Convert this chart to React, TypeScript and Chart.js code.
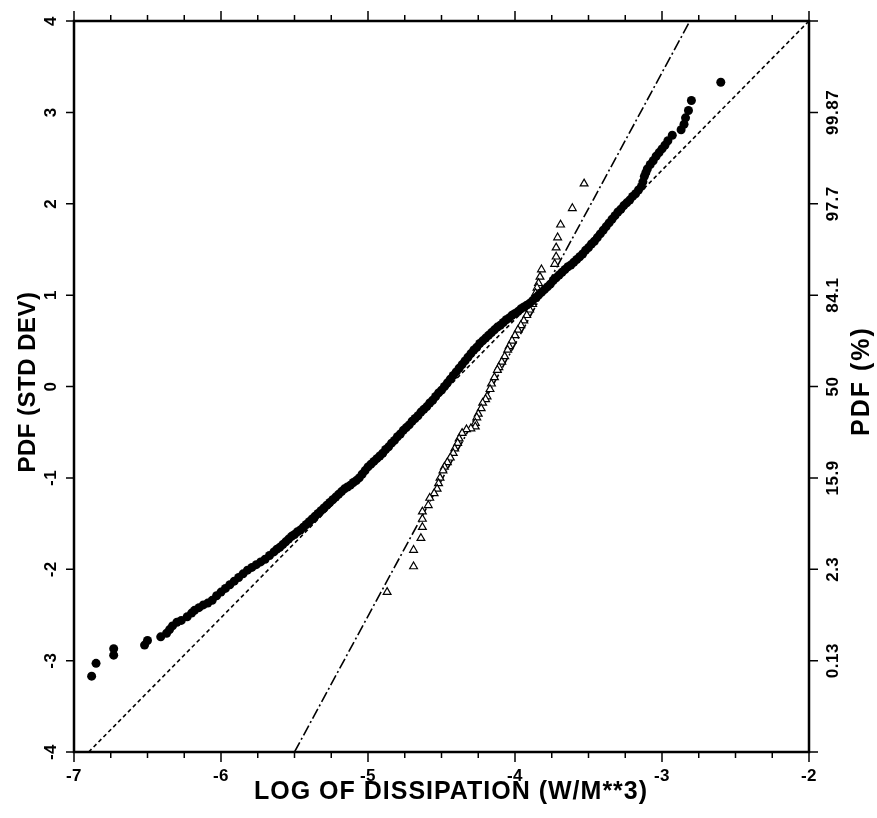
import React, { useEffect, useRef } from 'react';
import { Chart, registerables } from 'chart.js';

Chart.register(...registerables);

// Filled circles: log dissipation vs. normal score (std dev)
const circleData: [number, number][] = [
  [-6.88, -3.17], [-6.85, -3.03], [-6.73, -2.94], [-6.73, -2.87], [-6.52, -2.83], [-6.50, -2.78],
  [-6.41, -2.74], [-6.37, -2.70], [-6.35, -2.66], [-6.33, -2.62], [-6.30, -2.58], [-6.27, -2.56],
  [-6.23, -2.52], [-6.20, -2.48], [-6.18, -2.45], [-6.15, -2.42], [-6.12, -2.39], [-6.09, -2.37],
  [-6.06, -2.34], [-6.03, -2.29], [-6.00, -2.25], [-5.97, -2.21], [-5.94, -2.17], [-5.91, -2.13],
  [-5.88, -2.09], [-5.85, -2.05], [-5.82, -2.01], [-5.79, -1.98], [-5.76, -1.95], [-5.73, -1.92],
  [-5.70, -1.89], [-5.67, -1.85], [-5.64, -1.81], [-5.62, -1.78],
  [-5.60, -1.76], [-5.58, -1.73], [-5.56, -1.70], [-5.54, -1.67], [-5.52, -1.64], [-5.50, -1.62],
  [-5.48, -1.59], [-5.46, -1.57], [-5.44, -1.54], [-5.42, -1.51], [-5.40, -1.48], [-5.38, -1.45],
  [-5.36, -1.42], [-5.34, -1.39], [-5.32, -1.36], [-5.30, -1.33], [-5.28, -1.30], [-5.26, -1.27],
  [-5.24, -1.24], [-5.22, -1.21], [-5.20, -1.18], [-5.18, -1.15], [-5.16, -1.12], [-5.14, -1.10],
  [-5.12, -1.08], [-5.10, -1.05], [-5.08, -1.03], [-5.06, -1.00], [-5.04, -0.96], [-5.02, -0.92],
  [-5.00, -0.88], [-4.98, -0.85], [-4.96, -0.82], [-4.94, -0.79], [-4.92, -0.76], [-4.90, -0.73],
  [-4.88, -0.69], [-4.86, -0.66], [-4.84, -0.62], [-4.82, -0.59], [-4.80, -0.55], [-4.78, -0.52],
  [-4.76, -0.48], [-4.74, -0.45], [-4.72, -0.42], [-4.70, -0.38], [-4.68, -0.35], [-4.66, -0.32],
  [-4.64, -0.28], [-4.62, -0.25], [-4.60, -0.22], [-4.58, -0.18], [-4.56, -0.15], [-4.54, -0.11],
  [-4.52, -0.07], [-4.50, -0.04], [-4.48, 0.00], [-4.46, 0.04], [-4.44, 0.08], [-4.42, 0.12],
  [-4.40, 0.16], [-4.38, 0.20], [-4.36, 0.24], [-4.34, 0.28], [-4.32, 0.32], [-4.30, 0.36],
  [-4.28, 0.40], [-4.26, 0.43], [-4.24, 0.47], [-4.22, 0.50], [-4.20, 0.53], [-4.18, 0.56],
  [-4.16, 0.59], [-4.14, 0.62], [-4.12, 0.65], [-4.10, 0.67], [-4.08, 0.70], [-4.06, 0.73],
  [-4.04, 0.75], [-4.02, 0.78], [-4.00, 0.80], [-3.98, 0.82], [-3.96, 0.85], [-3.94, 0.87],
  [-3.92, 0.89], [-3.90, 0.91], [-3.88, 0.94], [-3.86, 0.97], [-3.84, 1.00], [-3.82, 1.03],
  [-3.80, 1.06], [-3.78, 1.09], [-3.76, 1.12], [-3.74, 1.16], [-3.72, 1.19], [-3.70, 1.22],
  [-3.68, 1.25], [-3.66, 1.28], [-3.64, 1.31], [-3.62, 1.33], [-3.60, 1.36], [-3.58, 1.39],
  [-3.56, 1.42], [-3.54, 1.45], [-3.52, 1.49], [-3.50, 1.52], [-3.48, 1.56], [-3.46, 1.59],
  [-3.44, 1.63], [-3.42, 1.67], [-3.40, 1.71], [-3.38, 1.75], [-3.36, 1.79], [-3.34, 1.83],
  [-3.32, 1.87], [-3.30, 1.91], [-3.28, 1.94], [-3.26, 1.98], [-3.24, 2.01], [-3.22, 2.04],
  [-3.20, 2.08], [-3.18, 2.11], [-3.16, 2.15], [-3.14, 2.19], [-3.13, 2.24], [-3.12, 2.30],
  [-3.11, 2.34], [-3.10, 2.38], [-3.08, 2.43], [-3.06, 2.47], [-3.04, 2.52], [-3.02, 2.56],
  [-3.00, 2.60], [-2.98, 2.64], [-2.96, 2.69], [-2.93, 2.75], [-2.87, 2.81], [-2.85, 2.87],
  [-2.84, 2.94], [-2.82, 3.02], [-2.80, 3.13], [-2.60, 3.33],
];

// Open triangles: second data set
const triangleData: [number, number][] = [
  [-3.53, 2.22], [-3.61, 1.95], [-3.69, 1.77], [-3.71, 1.63], [-3.72, 1.52], [-3.72, 1.42],
  [-3.73, 1.34], [-3.82, 1.28], [-3.83, 1.20], [-3.84, 1.13], [-3.85, 1.08], [-3.86, 1.02],
  [-3.87, 0.96], [-3.88, 0.90], [-3.90, 0.84], [-3.92, 0.78], [-3.94, 0.72], [-3.96, 0.67],
  [-3.98, 0.62], [-4.00, 0.56], [-4.02, 0.50], [-4.04, 0.44], [-4.05, 0.40], [-4.07, 0.33],
  [-4.09, 0.27], [-4.11, 0.21], [-4.12, 0.18], [-4.14, 0.10], [-4.16, 0.03], [-4.17, -0.03],
  [-4.19, -0.11], [-4.20, -0.14], [-4.22, -0.18], [-4.23, -0.24], [-4.25, -0.30], [-4.26, -0.34],
  [-4.27, -0.40], [-4.27, -0.44], [-4.30, -0.46], [-4.33, -0.47], [-4.36, -0.51], [-4.38, -0.57],
  [-4.39, -0.62], [-4.41, -0.68], [-4.42, -0.73], [-4.44, -0.78], [-4.46, -0.83], [-4.48, -0.88],
  [-4.49, -0.92], [-4.51, -1.00], [-4.52, -1.06], [-4.53, -1.12], [-4.55, -1.17], [-4.58, -1.22],
  [-4.59, -1.30], [-4.63, -1.37], [-4.63, -1.45], [-4.63, -1.54], [-4.64, -1.66], [-4.69, -1.79],
  [-4.69, -1.97], [-4.87, -2.25],
];

// Reference lines (end points)
const dottedLine: [number, number][] = [[-6.9, -4], [-2.0, 4]];
const dashDotLine: [number, number][] = [[-5.5, -4], [-2.81, 4]];

const xTickValues = [-7, -6, -5, -4, -3, -2];
const xTickLabels = ['-7', '-6', '-5', '-4', '-3', '-2'];
const yTickValues = [-4, -3, -2, -1, 0, 1, 2, 3, 4];
const yTickLabels = ['-4', '-3', '-2', '-1', '0', '1', '2', '3', '4'];
const pctTickValues = [-3, -2, -1, 0, 1, 2, 3];
const pctTickLabels = ['0.13', '2.3', '15.9', '50', '84.1', '97.7', '99.87'];
const xMinorStep = 0.25;

const xTitle = 'LOG OF DISSIPATION (W/M**3)';
const yTitle = 'PDF (STD DEV)';
const y2Title = 'PDF (%)';

const FONT = '"Liberation Sans", Arial, Helvetica, sans-serif';

const toXY = (arr: [number, number][]) => arr.map(([x, y]) => ({ x, y }));

const framePlugin = {
  id: 'frameAxes',
  afterDraw(chart: any) {
    const { ctx, chartArea: a } = chart;
    const xs = chart.scales.x;
    const ys = chart.scales.y;
    ctx.save();
    ctx.strokeStyle = '#000';
    ctx.fillStyle = '#000';
    ctx.lineWidth = 2.5;
    ctx.strokeRect(a.left, a.top, a.right - a.left, a.bottom - a.top);

    ctx.lineWidth = 1.5;
    ctx.beginPath();
    for (let v = xs.min; v <= xs.max + 1e-9; v += xMinorStep) {
      const px = xs.getPixelForValue(v);
      const major = Math.abs(v - Math.round(v)) < 1e-6;
      const len = major ? 10 : 6;
      ctx.moveTo(px, a.bottom);
      ctx.lineTo(px, a.bottom + len);
      ctx.moveTo(px, a.top);
      ctx.lineTo(px, a.top - len);
    }
    for (const v of yTickValues) {
      const py = ys.getPixelForValue(v);
      ctx.moveTo(a.left, py);
      ctx.lineTo(a.left - 8, py);
      ctx.moveTo(a.right, py);
      ctx.lineTo(a.right + 9, py);
    }
    ctx.stroke();

    const rot = (text: string, x: number, y: number) => {
      ctx.save();
      ctx.translate(x, y);
      ctx.rotate(-Math.PI / 2);
      ctx.fillText(text, 0, 0);
      ctx.restore();
    };

    ctx.font = `bold 17px ${FONT}`;
    ctx.textAlign = 'center';
    ctx.textBaseline = 'middle';
    (ctx as any).letterSpacing = '0.5px';
    xTickValues.forEach((v, i) => ctx.fillText(xTickLabels[i], xs.getPixelForValue(v), a.bottom + 24));
    yTickValues.forEach((v, i) => rot(yTickLabels[i], a.left - 23, ys.getPixelForValue(v)));
    pctTickValues.forEach((v, i) => rot(pctTickLabels[i], a.right + 24, ys.getPixelForValue(v)));

    ctx.font = `bold 25px ${FONT}`;
    (ctx as any).letterSpacing = '1px';
    ctx.fillText(xTitle, 451, 792);
    ctx.font = `bold 24px ${FONT}`;
    (ctx as any).letterSpacing = '0.5px';
    rot(yTitle, 28, 382);
    ctx.font = `bold 25px ${FONT}`;
    (ctx as any).letterSpacing = '2px';
    rot(y2Title, 862, 381);
    (ctx as any).letterSpacing = '0px';
    ctx.restore();
  },
};

export default function App() {
  const ref = useRef<HTMLCanvasElement | null>(null);

  useEffect(() => {
    document.body.style.margin = '0';
    document.body.style.background = '#fff';
    const canvas = ref.current;
    if (!canvas) return;
    const chart = new Chart(canvas, {
      type: 'scatter',
      data: {
        datasets: [
          {
            data: toXY(circleData),
            pointStyle: 'circle',
            pointRadius: 4.5,
            backgroundColor: '#000',
            borderColor: '#000',
            borderWidth: 0,
            showLine: false,
          },
          {
            data: toXY(triangleData),
            pointStyle: 'triangle',
            pointRadius: 4.5,
            backgroundColor: '#fff',
            borderColor: '#000',
            borderWidth: 1.2,
            showLine: false,
          },
          {
            data: toXY(dottedLine),
            showLine: true,
            pointRadius: 0,
            borderColor: '#000',
            borderWidth: 1.6,
            borderDash: [4, 3],
            fill: false,
          },
          {
            data: toXY(dashDotLine),
            showLine: true,
            pointRadius: 0,
            borderColor: '#000',
            borderWidth: 1.6,
            borderDash: [11, 3, 2, 3],
            fill: false,
          },
        ],
      } as any,
      options: {
        responsive: false,
        animation: false,
        devicePixelRatio: 1,
        events: [],
        layout: { padding: { left: 74, right: 68, top: 21, bottom: 66 } },
        scales: {
          x: { type: 'linear', min: -7, max: -2, display: false },
          y: { type: 'linear', min: -4, max: 4, display: false },
        },
        plugins: {
          legend: { display: false },
          tooltip: { enabled: false },
        },
      } as any,
      plugins: [framePlugin],
    });
    return () => chart.destroy();
  }, []);

  return <canvas ref={ref} width={877} height={818} style={{ display: 'block' }} />;
}
